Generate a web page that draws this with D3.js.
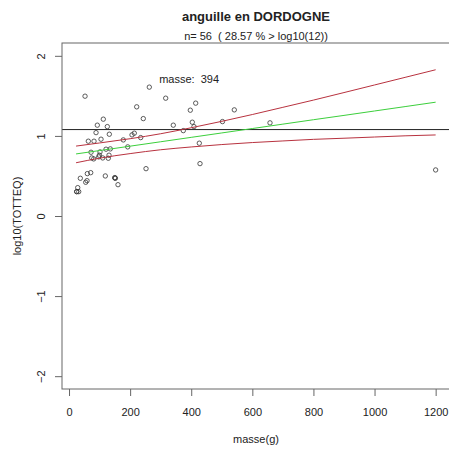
<!DOCTYPE html>
<html>
<head>
<meta charset="utf-8">
<script src="https://cdn.jsdelivr.net/npm/d3@7"></script>
<style>
  html, body { margin: 0; padding: 0; background: #fff; }
  svg { display: block; }
  text { font-family: "Liberation Sans", Arial, sans-serif; fill: #222; white-space: pre; }
</style>
</head>
<body>
<svg id="chart" width="449" height="451"></svg>
<script>
// ---- data ----
const masse = [52.4,262.8,316.4,221.5,112.2,243.1,92.6,125.3,88.4,131.9,104.7,63.2,81.8,177.7,206.2,213.7,234.6,192.1,72.0,101.4,121.1,135.2,99.2,130.9,74.3,80.8,97.2,110.3,128.6,252.0,37.0,59.9,71.0,54.6,58.9,118.8,149.6,151.5,160.3,28.5,25.2,31.7,341.3,374.0,397.0,414.6,403.5,409.0,426.4,428.7,541.0,502.3,657.8,1200,25.2,150.5];
const log10TOTTEQ = [1.496,1.609,1.471,1.363,1.209,1.216,1.134,1.116,1.041,1.021,0.959,0.934,0.934,0.950,1.013,1.034,0.979,0.863,0.796,0.800,0.834,0.838,0.759,0.759,0.725,0.713,0.738,0.725,0.721,0.591,0.471,0.529,0.541,0.421,0.441,0.500,0.479,0.471,0.391,0.354,0.304,0.304,1.134,1.066,1.321,1.409,1.171,1.116,0.909,0.654,1.325,1.179,1.163,0.575,0.304,0.475];

const bandX     = [23, 100, 200, 300, 400, 500, 600, 700, 800, 900, 1000, 1100, 1200];
const fitY      = [0.775,0.817,0.872,0.927,0.982,1.037,1.092,1.147,1.202,1.256,1.311,1.366,1.421];
const upperY    = [0.873,0.912,0.965,1.027,1.102,1.182,1.267,1.357,1.447,1.541,1.636,1.731,1.826];
const lowerY    = [0.665,0.722,0.779,0.827,0.862,0.892,0.917,0.937,0.957,0.971,0.986,1.001,1.012];

const threshold = Math.log10(12);
const xTicks = [0, 200, 400, 600, 800, 1000, 1200];
const yTicks = [-2, -1, 0, 1, 2];
const titleText = "anguille en DORDOGNE";
const subtitleText = "n= 56  ( 28.57 % > log10(12))";
const noteText = "masse:  394";
const noteX = 295, noteY = 1.66;
const xLabel = "masse(g)";
const yLabel = "log10(TOTTEQ)";

// ---- layout ----
const L = 62, R = 450, T = 43, B = 389;
const x = d3.scaleLinear().domain([-23, 1247]).range([L, R]);
const y = d3.scaleLinear().domain([-2.16, 2.16]).range([B, T]);

const svg = d3.select("#chart");
svg.append("rect").attr("width", 449).attr("height", 451).attr("fill", "#fff");

// title
svg.append("text").attr("x", (L + R) / 2).attr("y", 21).attr("text-anchor", "middle")
  .style("font-size", "13px").style("font-weight", "bold").text(titleText);
svg.append("text").attr("x", (L + R) / 2).attr("y", 40).attr("text-anchor", "middle")
  .style("font-size", "11px").text(subtitleText);

// axes
const gx = svg.append("g").attr("transform", `translate(0,${B})`)
  .call(d3.axisBottom(x).tickValues(xTicks).tickSize(7).tickFormat(d3.format("d")));
gx.select(".domain").remove();
gx.selectAll(".tick line").attr("stroke", "#666");
gx.selectAll(".tick text").attr("y", 19.5).style("font-size", "11px")
  .style("font-family", '"Liberation Sans", Arial, sans-serif').attr("fill", "#333");

const gy = svg.append("g").attr("transform", `translate(${L},0)`)
  .call(d3.axisLeft(y).tickValues(yTicks).tickSize(7).tickFormat(d3.format("d")));
gy.select(".domain").remove();
gy.selectAll(".tick line").attr("stroke", "#666");
gy.selectAll(".tick text")
  .attr("transform", "rotate(-90)")
  .attr("x", 0).attr("y", -17).attr("dy", 0)
  .attr("text-anchor", "middle")
  .style("font-size", "11px")
  .style("font-family", '"Liberation Sans", Arial, sans-serif').attr("fill", "#333");

// axis titles
svg.append("text").attr("x", (L + R) / 2).attr("y", 443).attr("text-anchor", "middle")
  .style("font-size", "11px").text(xLabel);
svg.append("text").attr("transform", `translate(21,${(T + B) / 2}) rotate(-90)`)
  .attr("text-anchor", "middle").style("font-size", "11px").text(yLabel);

// threshold line
svg.append("line").attr("x1", L).attr("x2", R).attr("y1", y(threshold)).attr("y2", y(threshold))
  .attr("stroke", "#222").attr("stroke-width", 1);

// points
svg.append("g").selectAll("circle").data(masse.map((m, i) => [m, log10TOTTEQ[i]]))
  .join("circle")
  .attr("cx", d => x(d[0])).attr("cy", d => y(d[1])).attr("r", 2.2)
  .attr("fill", "none").attr("stroke", "#333").attr("stroke-width", 0.8);

// fit and bands
const line = d3.line().x((d) => x(d[0])).y(d => y(d[1])).curve(d3.curveMonotoneX);
const mk = arr => bandX.map((v, i) => [v, arr[i]]);
svg.append("path").attr("d", line(mk(fitY))).attr("fill", "none").attr("stroke", "#3ccf3c").attr("stroke-width", 1);
svg.append("path").attr("d", line(mk(upperY))).attr("fill", "none").attr("stroke", "#b8323f").attr("stroke-width", 1);
svg.append("path").attr("d", line(mk(lowerY))).attr("fill", "none").attr("stroke", "#b8323f").attr("stroke-width", 1);

// note
svg.append("text").attr("x", x(noteX)).attr("y", y(noteY)).style("font-size", "11px").text(noteText);

// box
svg.append("rect").attr("x", L).attr("y", T).attr("width", R - L).attr("height", B - T)
  .attr("fill", "none").attr("stroke", "#666").attr("stroke-width", 1);
</script>
</body>
</html>
